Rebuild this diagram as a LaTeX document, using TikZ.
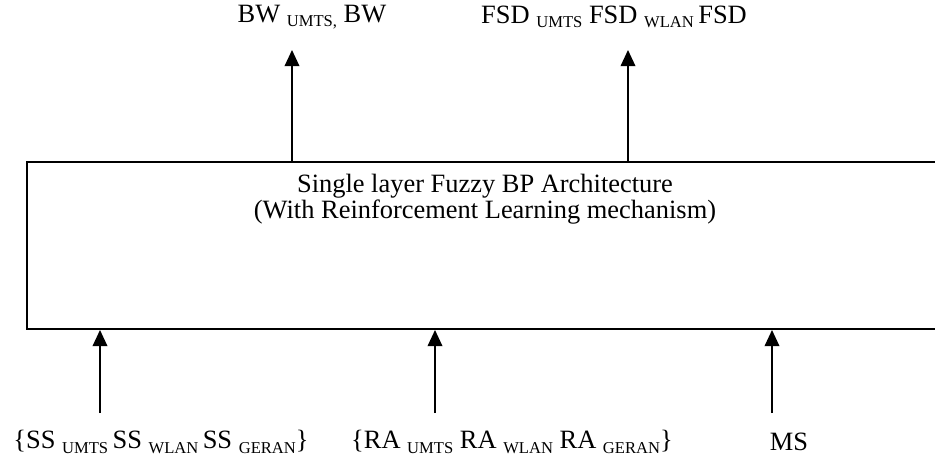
\documentclass[tikz,border=0pt]{standalone}
\usepackage{fontspec}
\setmainfont{Liberation Serif}
\usetikzlibrary{arrows.meta}

% lowered small tag after a quantity
\newcommand{\lowtag}[1]{\raisebox{-0.35ex}{\fontsize{11.8}{12}\selectfont #1}}

\begin{document}
\begin{tikzpicture}[
    x=0.025cm, y=-0.025cm,
    % Main block style
    block/.style={
        rectangle,
        draw=black,
        line width=1.4pt,
        minimum width=23cm,
        minimum height=4.175cm,
        inner sep=0pt
    },
    % Arrow style
    arrow/.style={
        -{Triangle[width=10.5pt,length=11.5pt]},
        line width=1pt,
        black
    },
    % Label style
    lbl/.style={
        font=\fontsize{18.8}{17}\selectfont,
        inner sep=0pt,
        align=center
    }
]
\clip (0,0) rectangle (935,459);

% === Main block ===
\node[block] (fbp) at (487,245.5) {};
\node[lbl] (title) at (485,199) {Single layer Fuzzy BP Architecture\\(With Reinforcement Learning mechanism)};

% === Outputs ===
\node[lbl] (bw) at (312,17) {BW \lowtag{UMTS,} BW};
\node[lbl] (fsd) at (614,17) {FSD \lowtag{UMTS} FSD \lowtag{WLAN}\,FSD};

\coordinate (bwout) at (292,50);
\coordinate (fsdout) at (628,50);
\draw[arrow] (bwout |- fbp.north) -- (bwout);
\draw[arrow] (fsdout |- fbp.north) -- (fsdout);

% === Inputs ===
\node[lbl] (ss) at (161,442) {\{SS \lowtag{UMTS}\,SS \lowtag{WLAN}\,SS \lowtag{GERAN}\}};
\node[lbl] (ra) at (512,442) {\{RA \lowtag{UMTS} RA \lowtag{WLAN} RA \lowtag{GERAN}\}};
\node[lbl] (ms) at (789,442) {MS};

\coordinate (ssin) at (100,413);
\coordinate (rain) at (435,413);
\coordinate (msin) at (772,413);
\draw[arrow] (ssin) -- (ssin |- fbp.south);
\draw[arrow] (rain) -- (rain |- fbp.south);
\draw[arrow] (msin) -- (msin |- fbp.south);

\end{tikzpicture}
\end{document}
